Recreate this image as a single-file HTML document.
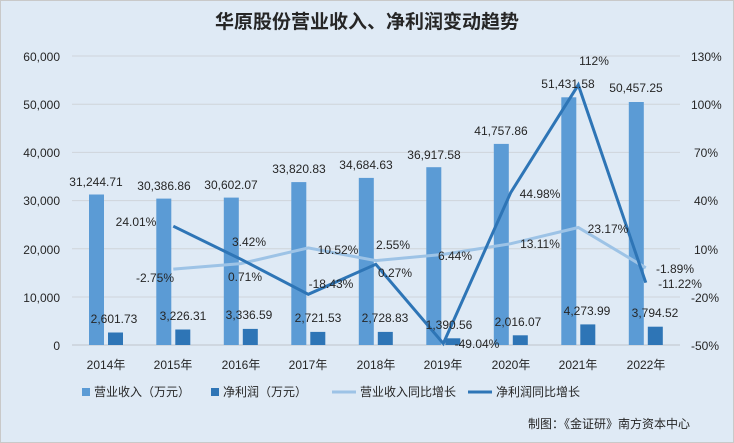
<!DOCTYPE html><html><head><meta charset="utf-8"><style>body{margin:0}svg{display:block}text{font-family:"Liberation Sans","Noto Sans CJK SC",sans-serif;font-size:12px;fill:#262626}</style></head><body>
<svg width="734" height="443" viewBox="0 0 734 443">
<rect x="0.5" y="0.5" width="733" height="442" fill="#dfeaf5" stroke="#c9c9c9"/>
<text x="367" y="28" text-anchor="middle" style="font-size:19px;font-weight:bold">华原股份营业收入、净利润变动趋势</text>
<g stroke="#cfd4da" stroke-width="1">
<line x1="72" x2="680" y1="56" y2="56"/><line x1="72" x2="680" y1="104.2" y2="104.2"/><line x1="72" x2="680" y1="152.4" y2="152.4"/><line x1="72" x2="680" y1="200.6" y2="200.6"/><line x1="72" x2="680" y1="248.8" y2="248.8"/><line x1="72" x2="680" y1="297" y2="297"/><line x1="72" x2="680" y1="345" y2="345" stroke="#bfc4ca"/></g>
<g text-anchor="end"><text x="60" y="61">60,000</text><text x="60" y="109">50,000</text><text x="60" y="157">40,000</text><text x="60" y="205">30,000</text><text x="60" y="254">20,000</text><text x="60" y="302">10,000</text><text x="60" y="350">0</text></g>
<g><text x="691" y="61">130%</text><text x="691" y="109">100%</text><text x="694" y="157">70%</text><text x="694" y="205">40%</text><text x="694" y="254">10%</text><text x="691" y="302">-20%</text><text x="691" y="350">-50%</text></g>
<g fill="#5b9bd5">
<rect x="89" y="194.5" width="15" height="150.5"/><rect x="156.3" y="198.6" width="15" height="146.4"/><rect x="223.8" y="197.6" width="15" height="147.4"/><rect x="291.3" y="182.1" width="15" height="162.9"/><rect x="358.8" y="177.9" width="15" height="167.1"/><rect x="426.3" y="167.2" width="15" height="177.8"/><rect x="493.8" y="143.9" width="15" height="201.1"/><rect x="561.3" y="97.3" width="15" height="247.7"/><rect x="628.8" y="102" width="15" height="243"/></g>
<g fill="#2e75b6">
<rect x="108" y="332.5" width="15" height="12.5"/><rect x="175.3" y="329.5" width="15" height="15.5"/><rect x="242.8" y="328.9" width="15" height="16.1"/><rect x="310.3" y="331.9" width="15" height="13.1"/><rect x="377.8" y="331.9" width="15" height="13.1"/><rect x="445.3" y="338.3" width="15" height="6.7"/><rect x="512.8" y="335.3" width="15" height="9.7"/><rect x="580.3" y="324.4" width="15" height="20.6"/><rect x="647.8" y="326.7" width="15" height="18.3"/></g>
<polyline fill="none" stroke="#9dc3e6" stroke-width="3" points="173.3,269.1 240.8,263.6 308.3,247.9 375.8,260.6 443.3,254.4 510.8,243.7 578.3,227.5 645.8,267.8"/>
<polyline fill="none" stroke="#2e75b6" stroke-width="3" points="173.3,226.2 240.8,259.2 308.3,294.3 375.8,264.3 443.3,343.5 510.8,192.4 578.3,84.9 645.8,282.7"/>
<g text-anchor="middle">
<text x="96" y="186">31,244.71</text><text x="164" y="190">30,386.86</text><text x="231" y="189">30,602.07</text><text x="299" y="173">33,820.83</text><text x="366" y="169">34,684.63</text><text x="434" y="159">36,917.58</text><text x="501" y="135">41,757.86</text><text x="568" y="88">51,431.58</text><text x="636" y="92">50,457.25</text>
<text x="114" y="323">2,601.73</text><text x="183" y="320">3,226.31</text><text x="249" y="319">3,336.59</text><text x="318" y="322">2,721.53</text><text x="385" y="322">2,728.83</text><text x="449" y="329">1,390.56</text><text x="518" y="326">2,016.07</text><text x="587" y="315">4,273.99</text><text x="655" y="317">3,794.52</text>
<text x="136" y="226">24.01%</text><text x="249" y="246">3.42%</text><text x="245" y="281">0.71%</text><text x="155" y="282">-2.75%</text><text x="331" y="288">-18.43%</text><text x="338" y="254">10.52%</text><text x="393" y="249">2.55%</text><text x="395" y="277">0.27%</text><text x="455" y="260">6.44%</text><text x="477" y="348">-49.04%</text><text x="540" y="198">44.98%</text><text x="540" y="248">13.11%</text><text x="594" y="65">112%</text><text x="608" y="233">23.17%</text><text x="675" y="273">-1.89%</text><text x="680" y="288">-11.22%</text>
<text x="106" y="369">2014年</text><text x="173" y="369">2015年</text><text x="241" y="369">2016年</text><text x="308" y="369">2017年</text><text x="376" y="369">2018年</text><text x="443" y="369">2019年</text><text x="511" y="369">2020年</text><text x="578" y="369">2021年</text><text x="646" y="369">2022年</text></g>
<rect x="82" y="388" width="8" height="8" fill="#5b9bd5"/><text x="94" y="396">营业收入（万元）</text>
<rect x="211" y="388" width="8" height="8" fill="#2e75b6"/><text x="223" y="396">净利润（万元）</text>
<line x1="332" x2="356" y1="392" y2="392" stroke="#9dc3e6" stroke-width="3"/><text x="360" y="396">营业收入同比增长</text>
<line x1="468" x2="492" y1="392" y2="392" stroke="#2e75b6" stroke-width="3"/><text x="496" y="396">净利润同比增长</text>
<text x="690" y="428" text-anchor="end">制图：《金证研》南方资本中心</text>
</svg></body></html>
